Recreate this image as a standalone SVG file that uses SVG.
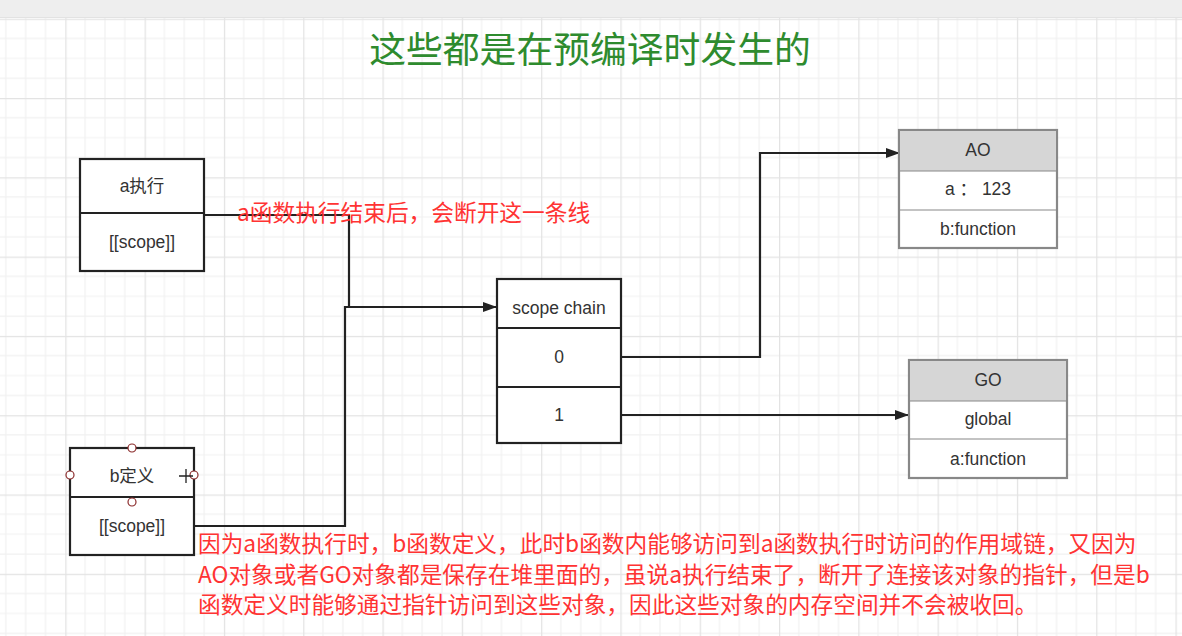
<svg xmlns="http://www.w3.org/2000/svg" width="1182" height="636" viewBox="0 0 1182 636">
<defs>
<pattern id="grid" patternUnits="userSpaceOnUse" x="-14" y="-60.6" width="79.3" height="79.3">
<path d="M19.8 0V79.3M39.65 0V79.3M59.5 0V79.3M0 19.8H79.3M0 39.65H79.3M0 59.5H79.3" stroke="#f1f1f1" stroke-width="1.2" fill="none"/>
<path d="M0.5 0V79.3M0 0.5H79.3" stroke="#e3e3e3" stroke-width="1.5" fill="none"/>
</pattern>
<marker id="arr" markerWidth="14" markerHeight="10" refX="13" refY="5" orient="auto" markerUnits="userSpaceOnUse">
<path d="M0 0L14 5L0 10Z" fill="#222"/>
</marker>
<style>
.box{fill:#fff;stroke:#222;stroke-width:2.2}
.div{stroke:#222;stroke-width:2}
.obox{fill:#fff;stroke:#888;stroke-width:2.2}
.ohead{fill:#d6d6d6}
.odiv{stroke:#888;stroke-width:1.2}
.t{font-family:"Liberation Sans","Noto Sans CJK SC",sans-serif;font-size:17.5px;fill:#333;text-anchor:middle}
.red{font-family:"Noto Sans CJK SC",sans-serif;font-size:22.7px;fill:#ff3333}
.edge{fill:none;stroke:#222;stroke-width:2.2}
.pt{fill:#fff;stroke:#8b2b2b;stroke-width:1.2}
</style>
</defs>
<rect width="1182" height="636" fill="#fff"/>
<rect width="1182" height="636" fill="url(#grid)"/>
<rect width="1182" height="17" fill="#eeeeee"/>
<line x1="0" y1="17.5" x2="1182" y2="17.5" stroke="#e2e2e2" stroke-width="1"/>

<text x="590" y="63" font-family="'Noto Sans CJK SC',sans-serif" font-size="36.8" fill="#2e8b2e" text-anchor="middle">这些都是在预编译时发生的</text>

<g id="connectors">
<path class="edge" d="M204 215H349V307"/>
<path class="edge" d="M194 526H345V307H496" marker-end="url(#arr)"/>
<path class="edge" d="M621 357H760V153H899" marker-end="url(#arr)"/>
<path class="edge" d="M621 415H908" marker-end="url(#arr)"/>
</g>

<g id="a-exec">
<rect class="box" x="80" y="159" width="124" height="112"/>
<line class="div" x1="80" y1="213" x2="204" y2="213"/>
<text class="t" x="142" y="192">a执行</text>
<text class="t" x="142" y="248">[[scope]]</text>
</g>

<g id="b-def">
<rect class="box" x="70" y="448" width="124" height="107"/>
<line class="div" x1="70" y1="497" x2="194" y2="497"/>
<text class="t" x="132" y="482">b定义</text>
<text class="t" x="132" y="532">[[scope]]</text>
<circle class="pt" cx="132" cy="448" r="4"/>
<circle class="pt" cx="70" cy="475" r="4"/>
<circle class="pt" cx="194" cy="475" r="4"/>
<circle class="pt" cx="132" cy="502" r="4"/>
<path d="M179 476H193M186 469V483" stroke="#222" stroke-width="1.3" fill="none"/>
</g>

<g id="scope-chain">
<rect class="box" x="497" y="279" width="124" height="164"/>
<line class="div" x1="497" y1="328" x2="621" y2="328"/>
<line class="div" x1="497" y1="387" x2="621" y2="387"/>
<text class="t" x="559" y="314">scope chain</text>
<text class="t" x="559" y="363">0</text>
<text class="t" x="559" y="421">1</text>
</g>

<g id="AO">
<rect class="obox" x="899" y="130" width="158" height="118"/>
<rect class="ohead" x="900" y="131" width="156" height="40"/>
<line class="odiv" x1="899" y1="171" x2="1057" y2="171"/>
<line class="odiv" x1="899" y1="210" x2="1057" y2="210"/>
<text class="t" x="978" y="156">AO</text>
<text class="t" x="978" y="195">a ： 123</text>
<text class="t" x="978" y="235">b:function</text>
</g>

<g id="GO">
<rect class="obox" x="909" y="360" width="158" height="118"/>
<rect class="ohead" x="910" y="361" width="156" height="40"/>
<line class="odiv" x1="909" y1="401" x2="1067" y2="401"/>
<line class="odiv" x1="909" y1="439" x2="1067" y2="439"/>
<text class="t" x="988" y="386">GO</text>
<text class="t" x="988" y="425">global</text>
<text class="t" x="988" y="465">a:function</text>
</g>

<g id="notes">
<text class="red" x="237" y="221">a函数执行结束后，会断开这一条线</text>
<text class="red" x="198" y="552">因为a函数执行时，b函数定义，此时b函数内能够访问到a函数执行时访问的作用域链，又因为</text>
<text class="red" x="198" y="583">AO对象或者GO对象都是保存在堆里面的，虽说a执行结束了，断开了连接该对象的指针，但是b</text>
<text class="red" x="198" y="613">函数定义时能够通过指针访问到这些对象，因此这些对象的内存空间并不会被收回。</text>
</g>
</svg>
